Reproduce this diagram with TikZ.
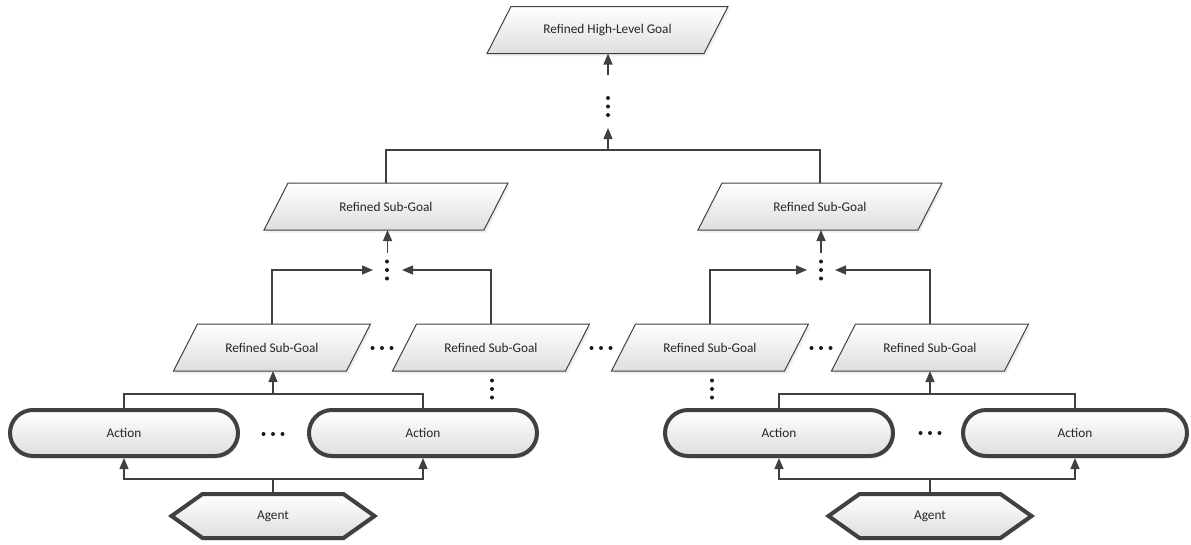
\documentclass[tikz,border=0pt]{standalone}
\usepackage{fontspec}
\setmainfont{Carlito}
\usetikzlibrary{arrows.meta,backgrounds,calc,shadows}
\definecolor{ln}{HTML}{404040}
\definecolor{shd}{HTML}{DEDEDE}
\definecolor{txt}{HTML}{262626}
\newcommand{\pgpath}[2]{([xshift=#2]#1.north west) -- ([xshift=#2]#1.north east) -- ([xshift=-#2]#1.south east) -- ([xshift=-#2]#1.south west) -- cycle}
\newcommand{\hexpath}[1]{(#1.north west) -- (#1.north east) -- ([xshift=31pt]#1.east) -- (#1.south east) -- (#1.south west) -- ([xshift=-31pt]#1.west) -- cycle}
\newcommand{\vdts}[2]{\fill[black!90] (#1,#2-8.5) circle (2pt) (#1,#2) circle (2pt) (#1,#2+8.5) circle (2pt);}
\newcommand{\hdts}[2]{\fill[black!90] (#1-9.5,#2) circle (2pt) (#1,#2) circle (2pt) (#1+9.5,#2) circle (2pt);}
\tikzset{
 lbl/.style={inner sep=0pt, outer sep=0pt, text=txt, font=\fontsize{13.3}{15}\selectfont},
 pgbox/.style={lbl, minimum height=47pt},
 conn/.style={draw=ln, line width=1.3pt},
 arr/.style={conn, -{Triangle[width=9pt,length=11pt]}},
 softshadow/.style={drop shadow={opacity=0.13, shadow xshift=2pt, shadow yshift=-2.5pt}},
 thin shape/.style={draw=ln, line width=1pt, top color=white, bottom color=shd, softshadow},
 thick shape/.style={draw=ln, line width=4pt, line join=miter, top color=white, bottom color=shd, softshadow},
 actbox/.style={lbl, thick shape, outer sep=2pt, rounded corners=23pt, minimum width=228pt, minimum height=46pt},
 agbox/.style={lbl, minimum width=141pt, minimum height=44pt},
 dotbox/.style={inner sep=0pt, outer sep=0pt, minimum width=29pt, minimum height=34pt},
}
\begin{document}
\begin{tikzpicture}[x=1pt,y=-1pt]
\useasboundingbox (0,0) rectangle (1191,544);
% goal nodes
\node[pgbox, minimum width=217pt] (hg) at (607.5,30) {Refined High-Level Goal};
\node[pgbox, minimum width=220pt] (sgL) at (386,206.5) {Refined Sub-Goal};
\node[pgbox, minimum width=220pt] (sgR) at (820,206.5) {Refined Sub-Goal};
\node[pgbox, minimum width=173pt] (s1) at (272,347.5) {Refined Sub-Goal};
\node[pgbox, minimum width=173pt] (s2) at (491,347.5) {Refined Sub-Goal};
\node[pgbox, minimum width=173pt] (s3) at (710,347.5) {Refined Sub-Goal};
\node[pgbox, minimum width=173pt] (s4) at (930,347.5) {Refined Sub-Goal};
% dots placeholders
\node[dotbox, minimum height=53pt] (dT) at (608,101.5) {};
\node[dotbox] (dL) at (387.5,270) {};
\node[dotbox, minimum width=28pt] (dR) at (821,270) {};
% actions
\node[actbox] (a1) at (124,433) {Action};
\node[actbox] (a2) at (423,433) {Action};
\node[actbox] (a3) at (779,433) {Action};
\node[actbox, minimum width=224pt] (a4) at (1075,433) {Action};
% agents
\node[agbox] (g1) at (273,516) {Agent};
\node[agbox] (g2) at (930,516) {Agent};
\begin{scope}[on background layer]
 \path[thin shape] \pgpath{hg}{12pt};
 \path[thin shape] \pgpath{sgL}{12pt};
 \path[thin shape] \pgpath{sgR}{12pt};
 \path[thin shape] \pgpath{s1}{12pt};
 \path[thin shape] \pgpath{s2}{12pt};
 \path[thin shape] \pgpath{s3}{12pt};
 \path[thin shape] \pgpath{s4}{12pt};
 \path[thick shape] \hexpath{g1};
 \path[thick shape] \hexpath{g2};
\end{scope}
% dots
\vdts{608}{106.5}
\vdts{387}{270}
\vdts{821}{270}
\vdts{492}{389}
\vdts{712}{389}
\hdts{382}{348}
\hdts{601}{348}
\hdts{821}{348}
\hdts{273}{434}
\hdts{930}{433}
% top level connectors
\coordinate (jT) at (608,150);
\draw[conn] (sgL.north) |- (jT) -| (sgR.north);
\draw[arr] (jT) -- (dT.south);
\draw[arr] (dT.north) -- (dT.north |- hg.south);
\draw[arr] (dL.north) -- (dL.north |- sgL.south);
\draw[arr] (dR.north) -- (dR.north |- sgR.south);
\draw[arr] (s1.north) |- (dL.west);
\draw[arr] (s2.north) |- (dL.east);
\draw[arr] (s3.north) |- (dR.west);
\draw[arr] (s4.north) |- (dR.east);
% action to sub-goal
\coordinate (j1) at (273,394);
\draw[conn] (a1.north) |- (j1) -| (a2.north);
\draw[arr] (j1) -- (j1 |- s1.south);
\coordinate (j2) at (930,394);
\draw[conn] (a3.north) |- (j2) -| (a4.north);
\draw[arr] (j2) -- (j2 |- s4.south);
% agent to actions
\coordinate (k1) at (273,479);
\draw[conn] (g1.north) -- (k1);
\draw[arr] (k1) -| (a1.south);
\draw[arr] (k1) -| (a2.south);
\coordinate (k2) at (930,479);
\draw[conn] (g2.north) -- (k2);
\draw[arr] (k2) -| (a3.south);
\draw[arr] (k2) -| (a4.south);
\end{tikzpicture}
\end{document}
